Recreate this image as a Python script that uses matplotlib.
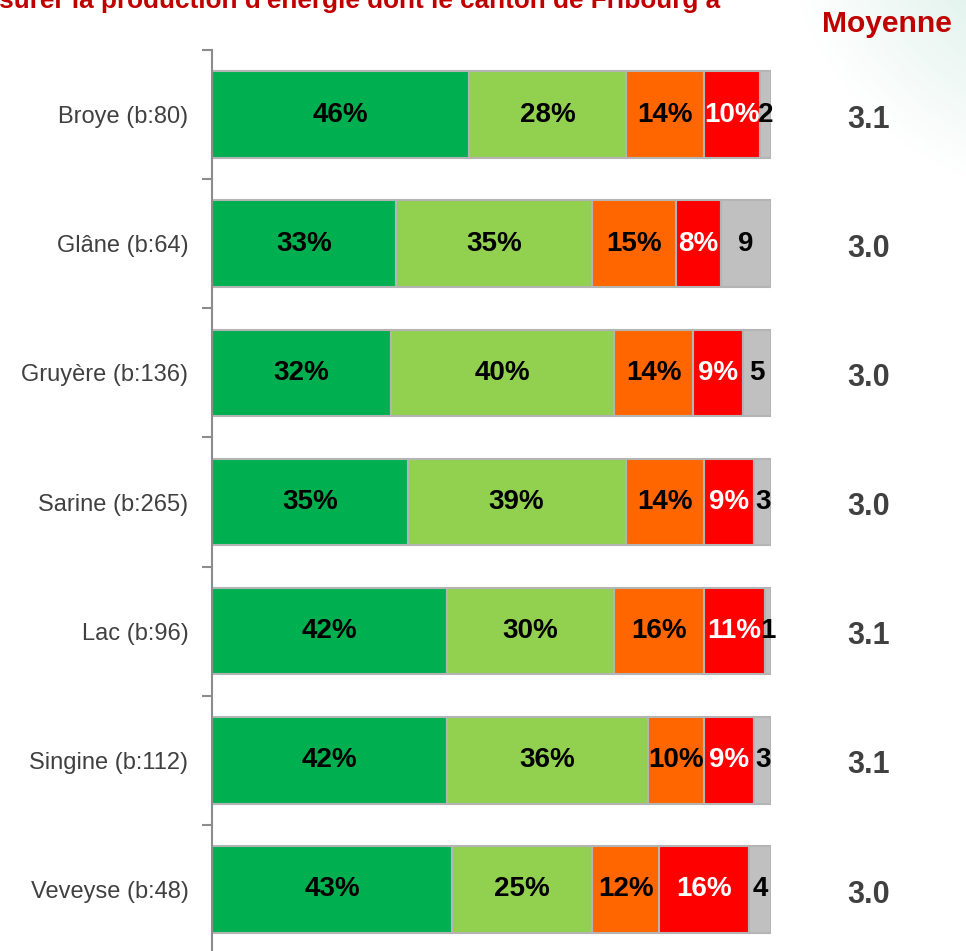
import matplotlib.pyplot as plt
import numpy as np

regions = ["Broye (b:80)", "Glâne (b:64)", "Gruyère (b:136)", "Sarine (b:265)",
           "Lac (b:96)", "Singine (b:112)", "Veveyse (b:48)"]
tres_bien = [46, 33, 32, 35, 42, 42, 43]
plutot_bien = [28, 35, 40, 39, 30, 36, 25]
plutot_mal = [14, 15, 14, 14, 16, 10, 12]
tres_mal = [10, 8, 9, 9, 11, 9, 16]
nsp = [2, 9, 5, 3, 1, 3, 4]
moyenne = [3.1, 3.0, 3.0, 3.0, 3.1, 3.1, 3.0]

series = [tres_bien, plutot_bien, plutot_mal, tres_mal, nsp]
colors = ["#00b050", "#92d050", "#ff6600", "#ff0000", "#c0c0c0"]
txt_colors = ["black", "black", "black", "white", "black"]

fam = ["Liberation Sans Narrow", "Liberation Sans", "DejaVu Sans"]

fig = plt.figure(figsize=(9.66, 9.51), dpi=100)
renderer = fig.canvas.get_renderer()


def fit_size(s, width_px, size=20, **kw):
    # scale font size so the string is about width_px wide
    t = fig.text(0, 0, s, fontsize=size, **kw)
    w = t.get_window_extent(renderer).width
    t.remove()
    return size * width_px / w


# faint gradient in the top right corner
bg = fig.add_axes([0, 0, 1, 1], zorder=-1)
yy, xx = np.mgrid[0:951, 0:966]
d = np.hypot(xx - 1080, yy + 100)
g = np.clip(1 - (d - 130) / 170, 0, 1)
tint = np.array([0.86, 0.94, 0.91])
img = np.ones((951, 966, 3)) * (1 - g[..., None] * 0.85) + tint * g[..., None] * 0.85
bg.imshow(img, aspect="auto", extent=[0, 1, 0, 1])
bg.axis("off")

ax = fig.add_axes([212 / 966, -3 / 951, 559 / 966, 904 / 951])
y = np.arange(len(regions))
left = np.zeros(len(regions))
for k, vals in enumerate(series):
    vals = np.array(vals)
    ax.barh(y, vals, left=left, height=0.67, color=colors[k],
            edgecolor="#b4b4b4", linewidth=1.5)
    for i, v in enumerate(vals):
        lab = f"{v}%" if k < 4 else f"{v}"
        ax.text(left[i] + v / 2, y[i], lab, ha="center", va="center", fontsize=20,
                fontweight="bold", color=txt_colors[k], family=fam)
    left += vals

ax.set_xlim(0, 100)
ax.set_ylim(len(regions) - 0.5, -0.5)
ax.set_yticks(np.arange(len(regions) + 1) - 0.5)
ax.set_yticklabels([])
ax.set_yticks(y, minor=True)
ax.set_yticklabels(regions, minor=True, fontsize=17, color="#404040", family=fam)
ax.tick_params(axis="y", which="minor", length=0, pad=17)
ax.tick_params(axis="y", which="major", length=7, width=1.5, color="#8c8c8c")
ax.set_xticks([])
for s in ["top", "right", "bottom"]:
    ax.spines[s].set_visible(False)
ax.spines["left"].set_color("#8c8c8c")
ax.spines["left"].set_linewidth(1.5)
ax.patch.set_alpha(0)

for i, m in enumerate(moyenne):
    ax.text(117.5, y[i] + 0.04, f"{m:.1f}", ha="center", va="center", fontsize=22,
            fontweight="bold", color="#404040", family=fam)

ms = fit_size("Moyenne", 130, fontweight="bold", family=fam)
fig.text(887 / 966, 1 - 24 / 951, "Moyenne", ha="center", va="center", fontsize=ms,
         fontweight="bold", color="#c00000", family=fam)
title = "assurer la production d'énergie dont le canton de Fribourg a"
ts = fit_size(title[2:], 722, fontweight="bold", family=fam)
fig.text(720 / 966, 1 - 8 / 951, title, ha="right", va="baseline", fontsize=ts,
         fontweight="bold", color="#c00000", family=fam)

fig.savefig("out.png", dpi=100)
